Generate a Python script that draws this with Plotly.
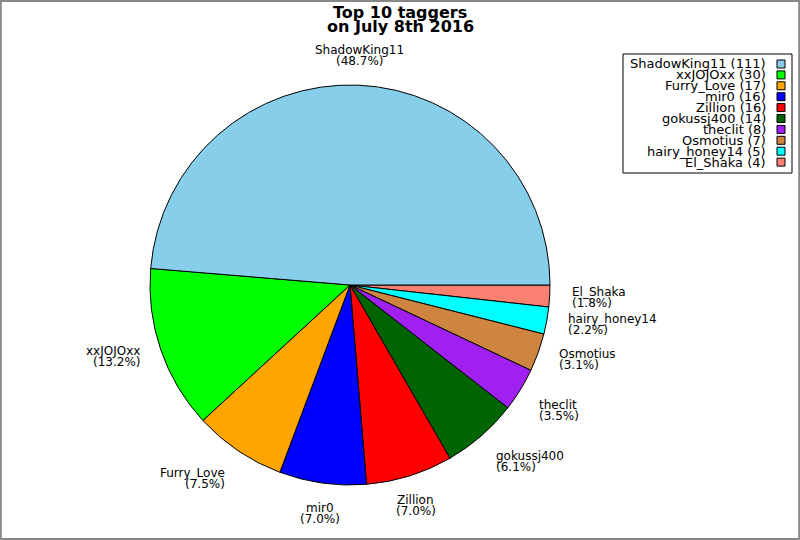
import math
import plotly.graph_objects as go

names = ["ShadowKing11", "xxJOJOxx", "Furry_Love", "mir0", "Zillion",
         "gokussj400", "theclit", "Osmotius", "hairy_honey14", "El_Shaka"]
counts = [111, 30, 17, 16, 16, 14, 8, 7, 5, 4]
colors = ["#87CEEB", "#00FF00", "#FFA500", "#0000FF", "#FF0000",
          "#006400", "#A020F0", "#CD853F", "#00FFFF", "#FA8072"]
title_lines = ["Top 10 taggers", "on July 8th 2016"]

W, H = 800, 540
CX, CY, R = 350, 285, 200
FONT = "DejaVu Sans"


def px(x):
    return x / W


def py(y):
    return 1 - y / H


# slices go counterclockwise from 3 o'clock; drawn as the reversed list clockwise
fig = go.Figure(go.Pie(
    labels=names[::-1], values=counts[::-1], sort=False, direction="clockwise",
    rotation=90, textinfo="none", hoverinfo="label+value+percent",
    marker=dict(colors=colors[::-1], line=dict(color="black", width=1)),
    domain=dict(x=[px(CX - R), px(CX + R)], y=[py(CY + R), py(CY - R)]),
    showlegend=False,
))

annotations = []
shapes = []

total = sum(counts)
cum = 0
for name, c in zip(names, counts):
    mid = (cum + c / 2) / total * 2 * math.pi
    cum += c
    co, si = math.cos(mid), math.sin(mid)
    ax = CX + 1.1 * R * co
    ay = CY - 1.1 * R * si
    if co > 0.4:
        xa = "left"
    elif co < -0.4:
        xa = "right"
    else:
        xa = "center"
    if si > 0.45:
        y1, y2 = ay - 15, ay - 4
    elif si < -0.45:
        y1, y2 = ay + 5, ay + 16
    else:
        y1, y2 = ay - 5.5, ay + 5.5
    pct = "(%.1f%%)" % (c / total * 100)
    for txt, yy in ((name, y1), (pct, y2)):
        annotations.append(dict(
            x=px(ax), y=py(yy), xref="paper", yref="paper", text=txt,
            showarrow=False, xanchor=xa, yanchor="middle",
            font=dict(family=FONT, size=12, color="black")))

# title
for i, t in enumerate(title_lines):
    annotations.append(dict(
        x=0.5, y=py(12 + 14 * i), xref="paper", yref="paper",
        text="<b>%s</b>" % t, showarrow=False, xanchor="center",
        yanchor="middle", font=dict(family=FONT, size=16, color="black")))

# legend box
shapes.append(dict(type="rect", xref="paper", yref="paper",
                   x0=px(623), x1=px(792), y0=py(173), y1=py(54),
                   line=dict(color="black", width=1), fillcolor="white"))
for i, (name, c, col) in enumerate(zip(names, counts, colors)):
    yc = 64 + 10.9 * i
    annotations.append(dict(
        x=px(768), y=py(yc), xref="paper", yref="paper",
        text="%s (%d)" % (name, c), showarrow=False, xanchor="right",
        yanchor="middle", font=dict(family=FONT, size=13, color="black")))
    shapes.append(dict(type="rect", xref="paper", yref="paper",
                       x0=px(777), x1=px(785), y0=py(yc + 4), y1=py(yc - 4),
                       line=dict(color="black", width=1), fillcolor=col))

# outer border
shapes.append(dict(type="rect", xref="paper", yref="paper",
                   x0=0.001, x1=0.999, y0=0.002, y1=0.998,
                   line=dict(color="#888888", width=2)))

fig.update_layout(
    width=W, height=H, margin=dict(l=0, r=0, t=0, b=0),
    paper_bgcolor="white", plot_bgcolor="white",
    annotations=annotations, shapes=shapes,
    font=dict(family=FONT, size=12, color="black"),
)

fig.write_html("out.html", config={"displayModeBar": False},
               post_script="document.body.style.margin='0px';")
